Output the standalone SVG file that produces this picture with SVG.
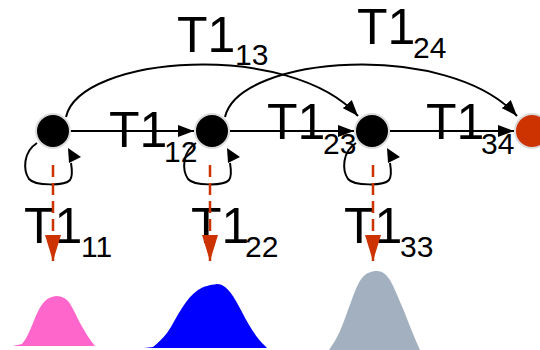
<svg xmlns="http://www.w3.org/2000/svg" width="540" height="350" viewBox="0 0 540 350">
  <defs>
    <style>
      .lbl { font-family: "Liberation Sans", Arial, sans-serif; fill: #000; }
      .big { font-size: 50px; }
      .sub { font-size: 30px; }
      .edge { fill: none; stroke: #000; stroke-width: 2; }
      .emit { fill: none; stroke: #cc3300; stroke-width: 2.5; stroke-dasharray: 12 6; }
      .node { fill: #000; stroke: #dcdcdc; stroke-width: 2; }
      .final { fill: #cc3300; stroke: #dcdcdc; stroke-width: 2; }
    </style>
    <marker id="head" viewBox="0 0 16 12" refX="16" refY="6" markerWidth="16" markerHeight="12" markerUnits="userSpaceOnUse" orient="auto">
      <path d="M0,0 L16,6 L0,12 Z" fill="#000"/>
    </marker>
    <marker id="redhead" viewBox="0 0 26 16" refX="26" refY="8" markerWidth="26" markerHeight="16" markerUnits="userSpaceOnUse" orient="auto">
      <path d="M0,0 L26,8 L0,16 Z" fill="#cc3300"/>
    </marker>
    <!-- self-transition loop drawn relative to the state centre -->
    <g id="loop">
      <path class="edge" d="M-16,12 C-30,21 -30,39 -24,48 C-18,55 12,55 17,49 C20,45 19,38 18,32"/>
      <path d="M15,17 L28,26 L16,32 Z" fill="#000"/>
    </g>
  </defs>

  <!-- emission densities -->
  <g id="dist1">
    <path fill="#ff66cc" d="M13,346 L22,344 C27,338 30,330 33,323 C37,313 40,306 45,301 C48,298 51,297 56,296 C60,296 64,297 68,301 C72,306 76,315 80,323 C85,332 90,340 95,346 Z"/>
  </g>
  <g id="dist2">
    <path fill="#0000ff" d="M144,348 L153,347 C158,343 162,339 167,333 C172,326 176,317 182,308 C187,300 192,294 198,290 C204,286 210,285 217,284 C222,284 226,287 230,292 C235,298 238,305 242,312 C247,322 252,330 257,337 C260,341 264,345 267,348 Z"/>
  </g>
  <g id="dist3">
    <path fill="#a2b0bf" d="M329,350 C333,344 337,338 340,331 C344,322 347,312 351,302 C355,291 358,283 362,278 C366,273 371,271 377,271 C382,271 386,274 390,280 C395,289 399,300 404,311 C409,324 414,337 420,350 Z"/>
  </g>

  <!-- transition labels -->
  <g id="labels">
    <text class="lbl big" x="177" y="52">T1</text><text class="lbl sub" x="235" y="65">13</text>
    <text class="lbl big" x="357" y="44">T1</text><text class="lbl sub" x="413" y="58">24</text>
    <text class="lbl big" x="109" y="147">T1</text><text class="lbl sub" x="164" y="162">12</text>
    <text class="lbl big" x="267" y="139">T1</text><text class="lbl sub" x="323" y="154">23</text>
    <text class="lbl big" x="426" y="139">T1</text><text class="lbl sub" x="481" y="154">34</text>
    <text class="lbl big" x="24" y="243">T1</text><text class="lbl sub" x="81" y="257">11</text>
    <text class="lbl big" x="191" y="243">T1</text><text class="lbl sub" x="245" y="257">22</text>
    <text class="lbl big" x="344" y="243">T1</text><text class="lbl sub" x="400" y="257">33</text>
  </g>

  <!-- transitions and emissions -->
  <g id="connectors">
    <path class="edge" d="M71,131 L194,131" marker-end="url(#head)"/>
    <path class="edge" d="M230,131 L354,131" marker-end="url(#head)"/>
    <path class="edge" d="M390,131 L514,131" marker-end="url(#head)"/>
    <path class="edge" d="M66,117 C80,55 290,40 358,116" marker-end="url(#head)"/>
    <path class="edge" d="M225,117 C239,55 449,40 517,116" marker-end="url(#head)"/>
    <use href="#loop" x="53" y="131"/>
    <use href="#loop" x="212" y="131"/>
    <use href="#loop" x="372" y="131"/>
    <path class="emit" d="M53,165 L53,261" marker-end="url(#redhead)"/>
    <path class="emit" d="M210,165 L210,261" marker-end="url(#redhead)"/>
    <path class="emit" d="M373,165 L373,261" marker-end="url(#redhead)"/>
  </g>

  <!-- states -->
  <g id="s1"><circle class="node" cx="53" cy="131" r="17"/></g>
  <g id="s2"><circle class="node" cx="212" cy="131" r="17"/></g>
  <g id="s3"><circle class="node" cx="372" cy="131" r="17"/></g>
  <g id="s4"><circle class="final" cx="532" cy="131" r="17"/></g>
</svg>
